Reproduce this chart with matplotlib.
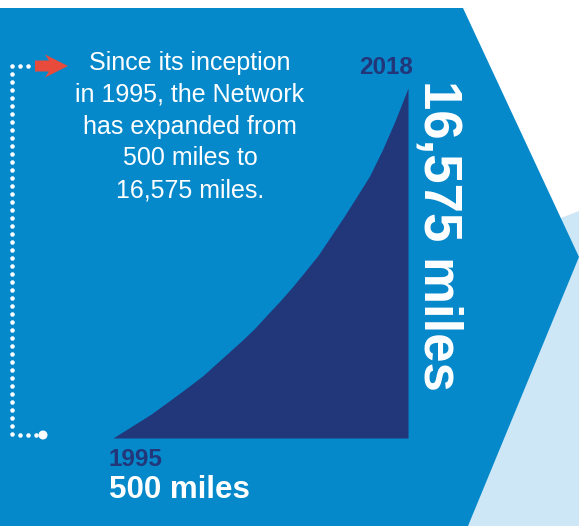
import matplotlib
matplotlib.use("Agg")
import matplotlib.pyplot as plt
from matplotlib.patches import Polygon, Circle

plt.rcParams['font.family'] = ['Liberation Sans', 'DejaVu Sans']

# network length per year
years = [1995, 1996, 1997, 1998, 1999, 2000, 2001, 2002, 2003, 2004, 2005, 2006,
         2007, 2008, 2009, 2010, 2011, 2012, 2013, 2014, 2015, 2016, 2017, 2018]
miles = [500, 870, 1240, 1610, 2040, 2470, 2910, 3360, 3890, 4420, 4950, 5510,
         6150, 6780, 7450, 8170, 8900, 9780, 10660, 11590, 12530, 13730, 15080, 16575]

intro = ["Since its inception", "in 1995, the Network", "has expanded from",
         "500 miles to", "16,575 miles."]

blue = "#0689cb"
navy = "#22367a"
light = "#cde7f6"

W, H = 579, 526
fig = plt.figure(figsize=(W / 100, H / 100), dpi=100)
fig.patch.set_facecolor("white")

# background in pixel coordinates (top-left origin)
bg = fig.add_axes([0, 0, 1, 1])
bg.set_xlim(0, W)
bg.set_ylim(H, 0)
bg.axis("off")
bg.add_patch(Polygon([(561, 218), (579, 211), (579, 526), (460, 526)], closed=True,
                     facecolor=light, edgecolor="none"))
bg.add_patch(Polygon([(0, 8), (463, 8), (579, 257), (468, 526), (0, 526)], closed=True,
                     facecolor=blue, edgecolor="none"))

# dotted connector
bg.scatter([12, 20, 28], [66] * 3, s=5, color="white", zorder=3)
vy = list(range(74, 436, 8))
bg.scatter([12] * len(vy), vy, s=5, color="white", zorder=3)
bg.scatter([20, 28, 36], [435] * 3, s=5, color="white", zorder=3)
bg.add_patch(Circle((43, 435), 3.8, color="white", zorder=3))

# red arrow
bg.add_patch(Polygon([(35, 60.5), (49, 60.5), (45, 54.5), (68, 66), (45, 77.5), (49, 71.5), (35, 71.5)],
                     closed=True, facecolor="#e84a3c", edgecolor="none", zorder=3))

for i, line in enumerate(intro):
    bg.text(190, 63 + i * 31.8, line, ha="center", va="center", color="white", fontsize=18)

# growth chart
ax = fig.add_axes([113 / W, (H - 438) / H, 295 / W, 350 / H])
ax.fill_between(years, miles, 500, color=navy, linewidth=0)
ax.set_xlim(years[0], years[-1])
ax.set_ylim(500, miles[-1])
ax.axis("off")

fig.text(109 / W, 1 - 459 / H, str(years[0]), color=navy, fontsize=17.5, fontweight="bold", va="center")
fig.text(109 / W, 1 - 490 / H, "500 miles", color="white", fontsize=22.5, fontweight="bold", va="center")
fig.text(413 / W, 1 - 68 / H, str(years[-1]), color=navy, fontsize=17.5, fontweight="bold",
         va="center", ha="right")
fig.text(439 / W, 1 - 235 / H, "16,575 miles", color="white", fontsize=38, fontweight="bold",
         va="center", ha="center", rotation=-90)

fig.savefig("out.png", dpi=100, facecolor=fig.get_facecolor())
